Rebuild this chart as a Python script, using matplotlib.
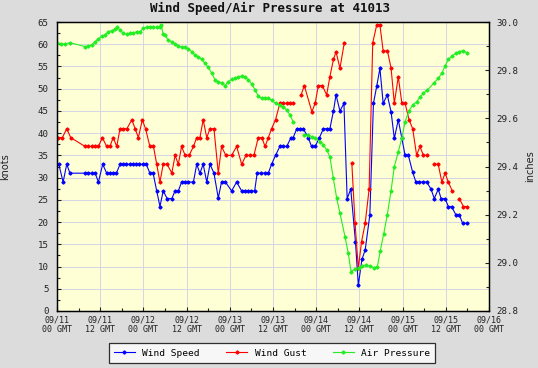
import numpy as np
import matplotlib
matplotlib.use('Agg')
import matplotlib.pyplot as plt
import matplotlib.ticker as ticker

nan = np.nan

# hours since 09/11 00 GMT, NaN marks a gap in the record
speed_h = [0.5, 1.7, 2.7, 3.6, 7.8, 8.7, 9.6, 10.6, 11.5, 12.7, 13.8, 14.7, 15.6, 16.5,
           17.5, 18.4, 19.3, 20.2, 21.1, 22.0, 22.9, 23.8, 24.8, 25.8, 26.7, 27.7, 28.6,
           29.5, 30.6, 31.9, 32.8, 33.7, 34.6, 35.6, 36.5, 37.9, 38.8, 39.7, 40.6, 41.6,
           42.5, 43.6, 44.8, 45.7, 46.8, 48.5, 49.9, 51.3, 52.2, 53.1, 54.0, 54.9, 55.6,
           56.8, 57.7, 58.7, 59.6, 60.7, 61.9, 62.9, 63.8, 65.0, 65.6, 66.6, 67.5, 68.4,
           69.8, 70.7, 71.7, 72.9, 74.0, 74.9, 75.8, 76.8, 77.5, 78.6, 79.7, 80.6, 81.6,
           82.9, 83.7, 84.7, 85.6, 86.9, 87.9, 88.8, 89.7, 90.6, 91.75, 92.8, 93.7, 94.8,
           95.75, 96.7, 97.6, 98.8, 99.7, 100.6, 101.6, 102.7, 103.9, 104.8, 105.9, 106.7,
           107.8, 108.7, 109.6, 110.75, 111.7, 112.7, 113.8]
speed = [33, 29, 33, 31, 31, 31, 31, 31, 29, 33, 31, 31, 31, 31,
         33, 33, 33, 33, 33, 33, 33, 33, 33, 31, 31, 27, 23.5,
         27, 25.3, 25.3, 27, 27, 29, 29, 29, 29, 33, 31, 33, 29,
         33, 31, 25.4, 29, 29, 27, 29, 27, 27, 27, 27, 27, 31,
         31, 31, 31, 33, 35, 37, 37, 37, 39, 39, 41, 41, 41,
         39, 37, 37, 39, 41, 41, 41, 45, 48.6, 45, 46.7, 25.3, 27.4,
         15.6, 5.8, 11.6, 13.7, 21.6, 46.7, 50.5, 54.6, 46.7, 48.6, 44.8, 38.8, 43,
         39, 35, 35, 31.2, 29, 29, 29, 29, 27.4, 25.3, 27.4, 25.3,
         25.3, 23.5, 23.5, 21.7, 21.7, 19.7, 19.7]

gust_h = [0.4, 1.5, 2.7, 3.8, 7.8, 8.7, 9.6, 10.6, 11.5, 12.6, 13.8, 14.7, 15.6, 16.6,
          17.5, 18.4, 19.4, 20.8, 21.7, 22.6, 23.7, 24.6, 25.8, 26.8, 27.7, 28.6, 29.5,
          30.6, 31.9, 32.8, 33.7, 34.6, 35.6, 36.7, 37.9, 38.8, 39.7, 40.6, 41.6, 42.5,
          43.6, 44.8, 45.7, 46.9, 48.5, 49.9, 51.3, 52.5, 53.6, 54.7, 55.9, 56.9, 57.8,
          58.7, 59.6, 60.7, 61.9, 62.9, 63.8, 64.7, 65.6, 66.7, 67.8, 68.7, 70.8, 71.7,
          72.6, 73.7, 74.9, 75.8, 76.8, 77.5, 78.6, 79.8, 80.9, 81.9, 82.8, 83.7, 84.6,
          85.6, 86.7, 87.7, 88.8, 89.7, 90.6, 91.8, 92.8, 93.7, 94.8, 95.8, 96.7, 97.8,
          98.8, 99.9, 100.8, 101.8, 102.9, 103.8, 104.8, 105.9, 106.9, 107.8, 108.7,
          109.8, 110.8, 111.75, 112.9, 113.8]
gust = [39, 39, 41, 39, 37, 37, 37, 37, 37, 39, 37, 37, 39, 37,
        41, 41, 41, 43, 41, 39, 43, 41, 37, 37, 33, 29, 33,
        33, 31, 35, 33, 37, 35, 35, 37, 39, 39, 43, 39, 41,
        41, 31, 37, 35, 35, 37, 33, 35, 35, 35, 39, 39, 37,
        39, 41, 43, 46.7, 46.7, 46.7, 46.7, 46.7, nan, 48.6, 50.7, 44.8, 46.7,
        50.7, 50.7, 48.6, 52.7, 56.6, 58.3, 54.6, 60.3, nan, 33.2, 19.7, 9.6, 15.6,
        19.7, 27.4, 60.3, 64.3, 64.3, 58.5, 58.5, 54.6, 46.7, 52.7, 46.7, 46.7, 43,
        41, 35, 37, 35, 35, nan, 33, 33, 29, 31, 29,
        27, nan, 25.3, 23.5, 23.5]

press_h = [0.0, 1.1, 2.2, 3.6, 7.8, 8.7, 9.6, 10.6, 11.5, 12.4, 13.3, 14.25, 15.2, 16.1,
           16.6, 17.5, 18.4, 19.4, 20.3, 21.2, 22.1, 23.1, 24.0, 24.9, 25.8, 26.75, 27.7,
           28.6, 28.9, 29.5, 30.0, 30.9, 31.9, 32.8, 33.7, 34.6, 35.6, 36.5, 37.4, 38.3,
           39.25, 40.2, 41.1, 42.0, 43.0, 43.9, 44.8, 45.75, 46.7, 47.6, 48.5, 49.4, 50.4,
           51.3, 52.2, 53.1, 54.1, 55.0, 55.9, 56.9, 57.8, 58.7, 59.6, 60.75, 61.9, 62.9,
           63.8, 64.7, 65.6, 67.0, 68.7, 69.8, 70.75, 71.7, 73.1, 74.0, 74.9, 75.8, 76.75,
           77.7, 78.6, 80.0, 80.9, 81.7, 82.8, 83.8, 84.8, 85.9, 86.9, 88.0, 89.0, 89.8,
           90.75, 91.75, 92.8, 93.7, 94.8, 95.75, 96.7, 97.8, 98.8, 99.9, 100.8, 101.75,
           102.9, 104.8, 105.9, 106.9, 107.8, 108.7, 109.8, 110.75, 111.7, 112.7, 113.8]
press = [29.914, 29.91, 29.909, 29.914, 29.898, 29.9, 29.905, 29.918, 29.93, 29.94, 29.946,
         29.96, 29.964, 29.97, 29.978, 29.967, 29.953, 29.95, 29.953, 29.953, 29.96, 29.96,
         29.974, 29.978, 29.978, 29.978, 29.978, 29.978, 29.988, 29.95, 29.946, 29.925,
         29.918, 29.909, 29.9, 29.895, 29.895, 29.887, 29.877, 29.863, 29.856, 29.845,
         29.829, 29.812, 29.787, 29.76, 29.752, 29.746, 29.736, 29.752, 29.762, 29.766,
         29.77, 29.776, 29.773, 29.76, 29.743, 29.718, 29.693, 29.683, 29.683, 29.683,
         29.676, 29.662, 29.655, 29.646, 29.635, 29.614, 29.586, nan, 29.531, 29.531,
         29.524, 29.517, 29.503, 29.489, 29.469, 29.441, 29.351, 29.268, 29.206, 29.109,
         29.04, 28.963, 28.975, 28.98, 28.987, 28.991, 28.987, 28.98, 28.984, 29.05,
         29.12, 29.2, 29.3, 29.4, 29.46, 29.517, 29.586, 29.632, 29.655, 29.669, 29.687,
         29.704, 29.718, 29.748, 29.766, 29.787, 29.817, 29.845, 29.859, 29.87, 29.877,
         29.881, 29.873]

tick_hours = list(range(0, 121, 12))
tick_labels = ['09/11\n00 GMT', '09/11\n12 GMT', '09/12\n00 GMT', '09/12\n12 GMT',
               '09/13\n00 GMT', '09/13\n12 GMT', '09/14\n00 GMT', '09/14\n12 GMT',
               '09/15\n00 GMT', '09/15\n12 GMT', '09/16\n00 GMT']

MONO = 'DejaVu Sans Mono'
BLUE, RED, GREEN = '#0000ff', '#ff0000', '#22ee22'

fig = plt.figure(figsize=(5.38, 3.68), dpi=100)
fig.patch.set_facecolor('#dcdcdc')
ax = fig.add_axes([57 / 538, 57 / 368, 432 / 538, 289 / 368])
ax.set_facecolor('#ffffd6')
ax2 = ax.twinx()

mk = dict(marker='D', markersize=1.6, linewidth=0.8)
l1, = ax.plot(speed_h, speed, color=BLUE, label='Wind Speed', **mk)
l2, = ax.plot(gust_h, gust, color=RED, label='Wind Gust', **mk)
l3, = ax2.plot(press_h, press, color=GREEN, label='Air Pressure', **mk)

ax.set_xlim(0, 120)
ax.set_ylim(0, 65)
ax2.set_ylim(28.8, 30.0)
ax.set_xticks(tick_hours)
ax.set_xticklabels(tick_labels, linespacing=1.15)
ax.xaxis.set_minor_locator(ticker.MultipleLocator(6))
ax.yaxis.set_major_locator(ticker.MultipleLocator(5))
ax.yaxis.set_minor_locator(ticker.MultipleLocator(2.5))
ax2.yaxis.set_major_locator(ticker.MultipleLocator(0.2))
ax2.yaxis.set_minor_locator(ticker.MultipleLocator(0.1))
ax2.yaxis.set_major_formatter(ticker.FormatStrFormatter('%.1f'))

ax.grid(True, color='#d4d4e4', linewidth=0.7)
ax.set_axisbelow(True)
for a in (ax, ax2):
    a.tick_params(which='both', direction='in', length=3, width=0.8, labelsize=6.6,
                  colors='#222222')
    a.tick_params(which='minor', length=2)
    for lab in a.get_xticklabels() + a.get_yticklabels():
        lab.set_family(MONO)
    for s in a.spines.values():
        s.set_linewidth(0.9)
ax.tick_params(axis='x', labelsize=6.0, pad=3)
ax.tick_params(axis='y', pad=6)
ax2.tick_params(axis='y', pad=5)

ax.set_ylabel('knots', fontsize=7, color='#222222', labelpad=20)
ax2.set_ylabel('inches', fontsize=7, color='#222222', labelpad=5)
fig.text(270 / 538, 1 - 8 / 368, 'Wind Speed/Air Pressure at 41013', ha='center', va='center',
         fontsize=9, fontweight='bold', family=MONO, color='#111111')

leg = fig.legend(handles=[l1, l2, l3], loc='center', ncol=3,
                 bbox_to_anchor=(272 / 538, 1 - 353 / 368), frameon=True, fancybox=False,
                 prop={'family': MONO, 'size': 6.8}, handlelength=2.2, columnspacing=2.8,
                 borderpad=0.55, edgecolor='black', facecolor='white')
leg.get_frame().set_linewidth(0.9)

fig.savefig('out.png', dpi=100, facecolor=fig.get_facecolor())
